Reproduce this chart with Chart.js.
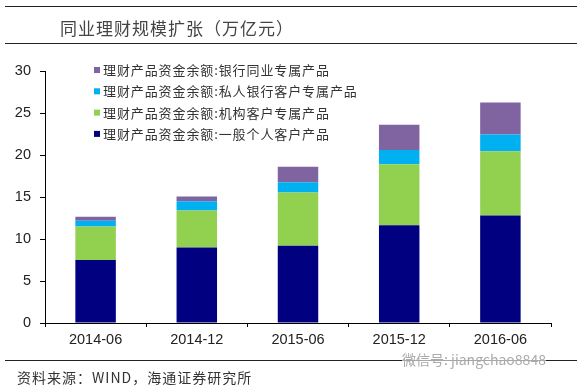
<!DOCTYPE html>
<html>
<head>
<meta charset="utf-8">
<script src="https://cdn.jsdelivr.net/npm/chart.js@4/dist/chart.umd.min.js"></script>
<style>
  html, body { margin: 0; padding: 0; background: #fff; }
  #wrap { position: relative; width: 582px; height: 387px; overflow: hidden; }
  #c { position: absolute; left: 0; top: 0; }
  .rule { position: absolute; left: 5px; width: 572px; height: 0; border-top: 1.5px solid #222; }
  .txt { position: absolute; font-family: "Noto Sans CJK SC", sans-serif; white-space: nowrap; }
</style>
</head>
<body>
<div id="wrap">
  <canvas id="c" width="582" height="387"></canvas>
  <div class="rule" style="top:6px"></div>
  <div class="rule" style="top:43px"></div>
  <div class="rule" style="top:360px"></div>
  <div class="txt" style="left:60px;top:16px;font-size:17px;line-height:24px;color:#444;letter-spacing:1px">同业理财规模扩张（万亿元）</div>
  <div class="txt" style="left:17px;top:367px;font-size:14px;line-height:20px;color:#333;letter-spacing:1px">资料来源：WIND，海通证券研究所</div>
  <div class="txt" style="left:402px;top:350px;font-size:14px;line-height:18px;color:#aaa;background:rgba(255,255,255,0.6)">微信号: jiangchao8848</div>
</div>
<script>
const categories = ['2014-06', '2014-12', '2015-06', '2015-12', '2016-06'];
const generalRetail = [7.5, 9.0, 9.2, 11.65, 12.8];
const institutional = [3.98, 4.4, 6.35, 7.25, 7.65];
const privateBank = [0.7, 1.1, 1.2, 1.7, 2.0];
const interbank = [0.47, 0.55, 1.85, 3.0, 3.8];
const yTicks = [0, 5, 10, 15, 20, 25, 30];

// legend drawn in the plot corner, top series first
const cornerLegend = {
    id: 'cornerLegend',
    afterDraw(chart) {
        const ctx = chart.ctx;
        const sets = chart.data.datasets.slice().reverse();
        ctx.save();
        ctx.font = '13px "Noto Sans CJK SC", sans-serif';
        if ('letterSpacing' in ctx) ctx.letterSpacing = '0.9px';
        ctx.textBaseline = 'middle';
        sets.forEach((ds, i) => {
            const y = 70 + i * 21.3;
            ctx.fillStyle = ds.backgroundColor;
            ctx.fillRect(94, y - 3, 6, 6);
            ctx.fillStyle = '#333';
            ctx.fillText(ds.label, 103, y);
        });
        ctx.restore();
    }
};

new Chart(document.getElementById('c'), {
    type: 'bar',
    data: {
        labels: categories,
        datasets: [
            { label: '理财产品资金余额:一般个人客户产品', data: generalRetail, backgroundColor: '#000080' },
            { label: '理财产品资金余额:机构客户专属产品', data: institutional, backgroundColor: '#92D050' },
            { label: '理财产品资金余额:私人银行客户专属产品', data: privateBank, backgroundColor: '#00B0F0' },
            { label: '理财产品资金余额:银行同业专属产品', data: interbank, backgroundColor: '#8064A2' }
        ]
    },
    options: {
        responsive: false,
        animation: false,
        devicePixelRatio: 1,
        layout: { padding: { left: 0, right: 31, top: 71, bottom: 0 } },
        datasets: { bar: { barPercentage: 0.8, categoryPercentage: 0.5 } },
        plugins: {
            legend: { display: false },
            tooltip: { enabled: false }
        },
        scales: {
            x: {
                stacked: true,
                afterFit: s => { s.height = 64; },
                grid: { drawOnChartArea: false, drawTicks: true, tickLength: 4, color: '#000' },
                border: { display: true, color: '#000', width: 1 },
                ticks: { color: '#222', padding: 4, font: { family: 'Liberation Sans, Arial', size: 14.5 } }
            },
            y: {
                stacked: true,
                min: 0,
                max: 30,
                afterFit: s => { s.width = 45; },
                afterBuildTicks: s => { s.ticks = yTicks.map(v => ({ value: v })); },
                grid: { drawOnChartArea: false, drawTicks: true, tickLength: 5, color: '#000' },
                border: { display: true, color: '#000', width: 1 },
                ticks: { color: '#222', padding: 9, font: { family: 'Liberation Sans, Arial', size: 14.5 } }
            }
        }
    },
    plugins: [cornerLegend]
});
</script>
</body>
</html>
